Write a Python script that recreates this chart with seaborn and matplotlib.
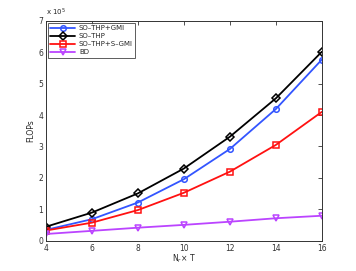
import numpy as np
import pandas as pd
import matplotlib
matplotlib.use("Agg")
import matplotlib.pyplot as plt
import seaborn as sns

# data (FLOPs in units of 1e5)
nt = [4, 6, 8, 10, 12, 14, 16]
so_thp_gmi = [0.35, 0.69, 1.22, 1.96, 2.92, 4.19, 5.76]
so_thp = [0.45, 0.90, 1.51, 2.30, 3.31, 4.53, 6.01]
so_thp_sgmi = [0.33, 0.58, 0.98, 1.53, 2.20, 3.05, 4.10]
bd = [0.22, 0.32, 0.42, 0.51, 0.61, 0.72, 0.80]

names = ["SO\u2013THP+GMI", "SO\u2013THP", "SO\u2013THP+S\u2013GMI", "BD"]
series = [so_thp_gmi, so_thp, so_thp_sgmi, bd]
colors = ["#3355ff", "black", "#ff1111", "#bb44ff"]
markers = ["o", "D", "s", "v"]

df = pd.concat([pd.DataFrame({"x": nt, "y": s, "method": n}) for n, s in zip(names, series)])

sns.set_style("white")
plt.rcParams["font.family"] = ["DejaVu Sans"]
plt.rcParams["font.size"] = 5.5

fig = plt.figure(figsize=(3.56, 2.71), dpi=100)
ax = fig.add_axes([0.129, 0.111, 0.775, 0.813])

for n, c, m in zip(names, colors, markers):
    sub = df[df["method"] == n]
    sns.lineplot(data=sub, x="x", y="y", ax=ax, color=c, marker=m, markersize=4,
                 markerfacecolor="none", markeredgecolor=c, markeredgewidth=1.1,
                 linewidth=1.3, label=n)

ax.set_xlim(4, 16)
ax.set_ylim(0, 7)
ax.set_xticks(nt)
ax.set_yticks(range(0, 8))
ax.tick_params(direction="in", length=3, width=0.6, top=True, right=True,
               labelsize=5.5, pad=2, colors="#333333")
for s in ax.spines.values():
    s.set_linewidth(0.7)
    s.set_color("#333333")
ax.set_xlabel("N$_r$\u00d7 T", fontsize=5.5, labelpad=0)
ax.set_ylabel("FLOPs", fontsize=5.5, labelpad=2)
ax.text(0.0, 1.01, "x 10$^5$", transform=ax.transAxes, fontsize=5, ha="left", va="bottom")

leg = ax.legend(loc="upper left", fontsize=5, frameon=True, fancybox=False,
                edgecolor="#333333", handlelength=3.6, handletextpad=0.5, borderpad=0.35,
                labelspacing=0.3, borderaxespad=0.3)
leg.get_frame().set_linewidth(0.7)

fig.savefig("out.png", dpi=100)
